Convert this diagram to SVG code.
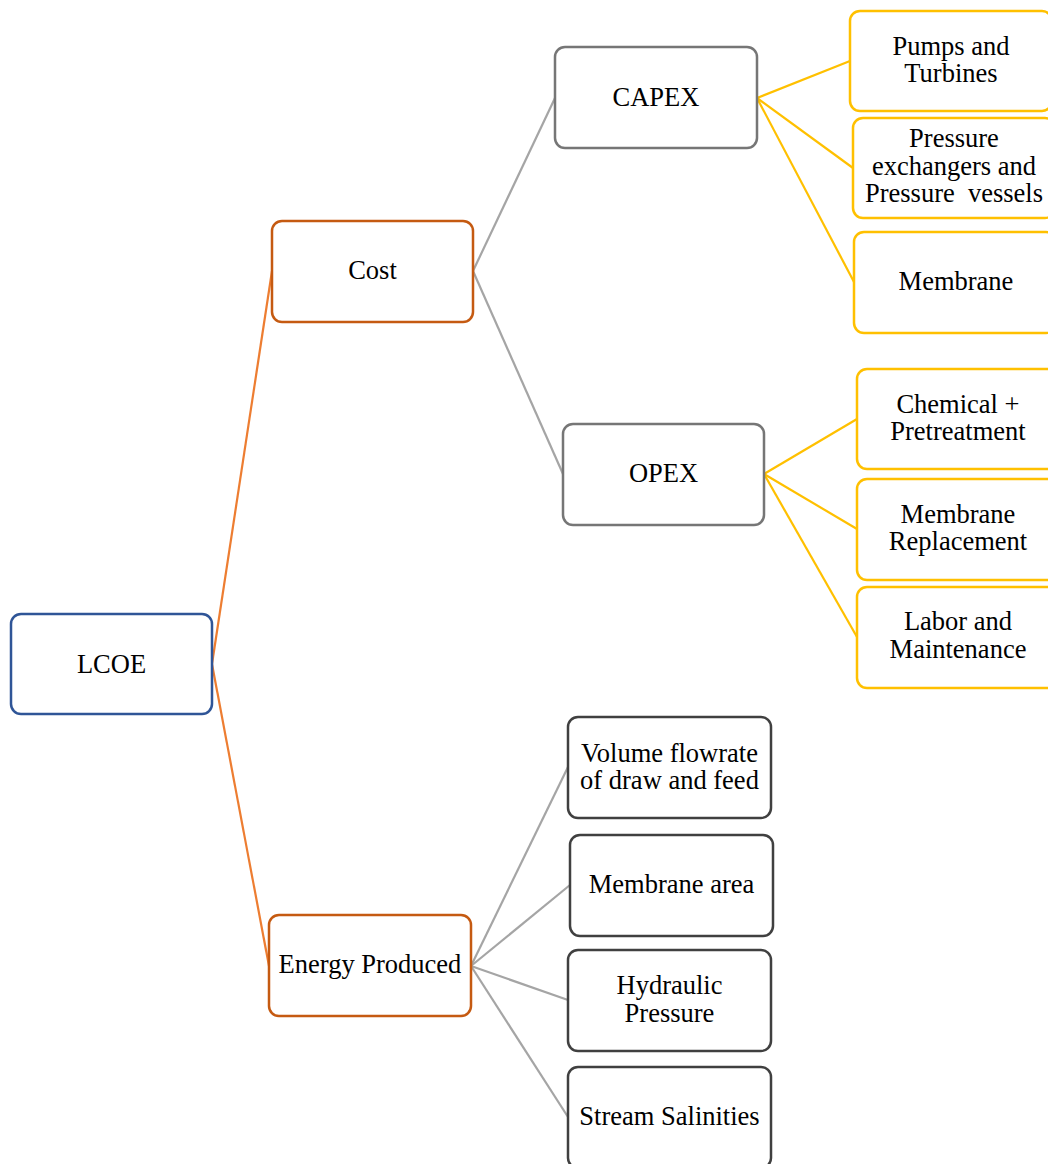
<svg xmlns="http://www.w3.org/2000/svg" width="1048" height="1164" viewBox="0 0 1048 1164">
<style>
rect{fill:#fff;stroke-width:2.5}
text{font-family:"Liberation Serif","Times New Roman",serif;font-size:26.5px;fill:#000;text-anchor:middle}
.blue{stroke:#2F5597}
.org{stroke:#C55A11}
.gry{stroke:#767676}
.yel{stroke:#FFC000}
.dk{stroke:#404040}
.c line{stroke-width:2.2}
.co{stroke:#ED7D31}
.cg{stroke:#A5A5A5}
.cy{stroke:#FFC000}
</style>
<rect width="1048" height="1164" fill="#fff" stroke="none"/>
<g id="connectors" class="c">
<line class="co" x1="212" y1="664" x2="272" y2="271"/>
<line class="co" x1="212" y1="664" x2="269" y2="966"/>
<line class="cg" x1="473" y1="271" x2="555" y2="98"/>
<line class="cg" x1="473" y1="271" x2="563" y2="474"/>
<line class="cy" x1="757" y1="98" x2="850" y2="61"/>
<line class="cy" x1="757" y1="98" x2="853" y2="168"/>
<line class="cy" x1="757" y1="98" x2="854" y2="282"/>
<line class="cy" x1="764" y1="474" x2="857" y2="419"/>
<line class="cy" x1="764" y1="474" x2="857" y2="529"/>
<line class="cy" x1="764" y1="474" x2="857" y2="637"/>
<line class="cg" x1="471" y1="966" x2="568" y2="767"/>
<line class="cg" x1="471" y1="966" x2="570" y2="885"/>
<line class="cg" x1="471" y1="966" x2="568" y2="1000"/>
<line class="cg" x1="471" y1="966" x2="568" y2="1117"/>
</g>
<g id="lcoe"><rect class="blue" x="11" y="614" width="201" height="100" rx="10"/><text x="111.5" y="673">LCOE</text></g>
<g id="cost"><rect class="org" x="272" y="221" width="201" height="101" rx="10"/><text x="372.5" y="279">Cost</text></g>
<g id="energy"><rect class="org" x="269" y="915" width="202" height="101" rx="10"/><text x="370" y="973">Energy Produced</text></g>
<g id="capex"><rect class="gry" x="555" y="47" width="202" height="101" rx="10"/><text x="656" y="106">CAPEX</text></g>
<g id="opex"><rect class="gry" x="563" y="424" width="201" height="101" rx="10"/><text x="663.5" y="482">OPEX</text></g>
<g id="pumps"><rect class="yel" x="850" y="11" width="202" height="100" rx="10"/><text x="951" y="55">Pumps and</text><text x="951" y="82">Turbines</text></g>
<g id="pressure"><rect class="yel" x="853" y="118" width="202" height="100" rx="10"/><text x="954" y="147">Pressure</text><text x="954" y="175">exchangers and</text><text x="954" y="202" xml:space="preserve">Pressure  vessels</text></g>
<g id="membrane"><rect class="yel" x="854" y="232" width="202" height="101" rx="10"/><text x="956" y="290">Membrane</text></g>
<g id="chemical"><rect class="yel" x="857" y="369" width="202" height="100" rx="10"/><text x="958" y="413">Chemical +</text><text x="958" y="440">Pretreatment</text></g>
<g id="replacement"><rect class="yel" x="857" y="479" width="202" height="101" rx="10"/><text x="958" y="523">Membrane</text><text x="958" y="550">Replacement</text></g>
<g id="labor"><rect class="yel" x="857" y="587" width="202" height="101" rx="10"/><text x="958" y="630">Labor and</text><text x="958" y="658">Maintenance</text></g>
<g id="volume"><rect class="dk" x="568" y="717" width="203" height="101" rx="10"/><text x="669.5" y="762">Volume flowrate</text><text x="669.5" y="789">of draw and feed</text></g>
<g id="area"><rect class="dk" x="570" y="835" width="203" height="101" rx="10"/><text x="671.5" y="893">Membrane area</text></g>
<g id="hydraulic"><rect class="dk" x="568" y="950" width="203" height="101" rx="10"/><text x="669.5" y="994">Hydraulic</text><text x="669.5" y="1022">Pressure</text></g>
<g id="stream"><rect class="dk" x="568" y="1067" width="203" height="101" rx="10"/><text x="669.5" y="1125">Stream Salinities</text></g>
</svg>
